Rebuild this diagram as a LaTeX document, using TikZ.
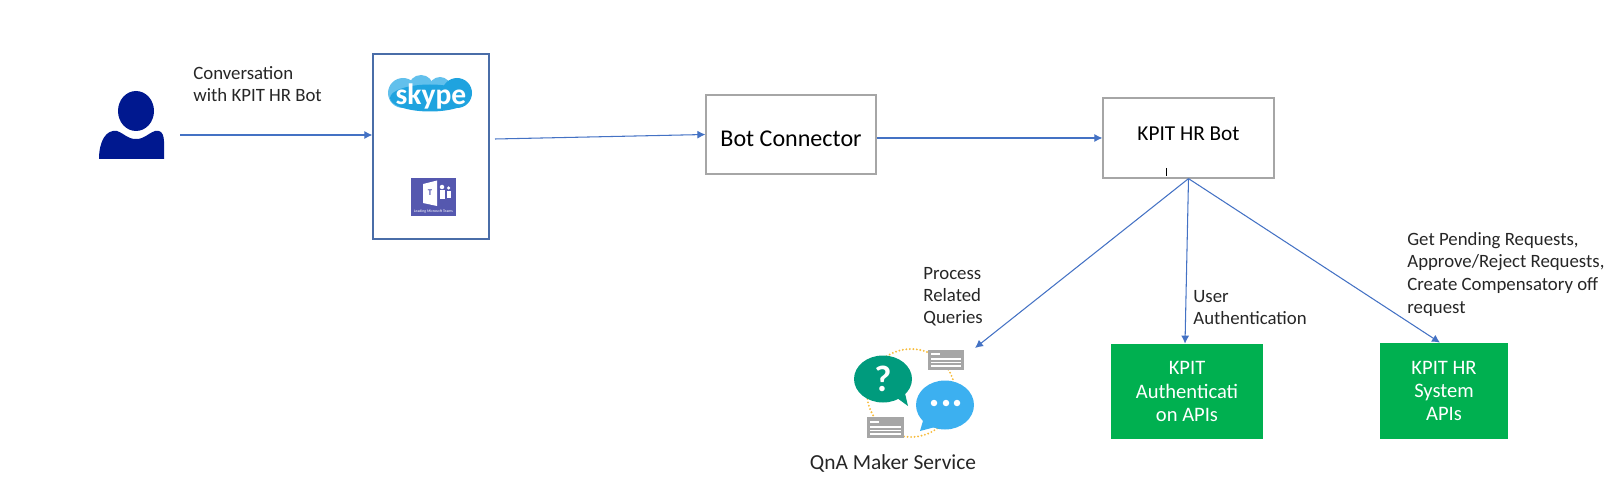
\documentclass[tikz,border=0pt]{standalone}
\usepackage{fontspec}
\setmainfont{Carlito}
\usetikzlibrary{arrows.meta}

\definecolor{linkblue}{HTML}{4472C4}
\definecolor{chanblue}{HTML}{4A6DA8}
\definecolor{boxgrey}{HTML}{A6A6A6}
\definecolor{apigreen}{HTML}{00B050}
\definecolor{usernavy}{HTML}{00188F}
\definecolor{skypeblue}{HTML}{1FA3DF}
\definecolor{skypelight}{HTML}{62C0EC}
\definecolor{teamspurple}{HTML}{5558AF}
\definecolor{askgreen}{HTML}{009B7D}
\definecolor{replyblue}{HTML}{3CB0F0}
\definecolor{cardgrey}{HTML}{A6A6A6}
\definecolor{ringgold}{HTML}{F7BC3C}

\tikzset{
  link/.style={-{Latex[length=0.16cm,width=0.16cm]}, linkblue, line width=0.6pt},
  whitebox/.style={draw=boxgrey, line width=0.7pt, fill=white},
  apibox/.style={fill=apigreen, text=white, align=center, font=\fontsize{11.7}{13.2}\selectfont},
  note/.style={inner sep=0, align=left, text=black!85, font=\fontsize{10.7}{12.6}\selectfont},
  cardline/.style={white, line width=0.6pt}
}

\begin{document}
\begin{tikzpicture}
    \useasboundingbox (0, 0) rectangle (32.3, 9.78);

    \fill [usernavy] (2.72, 7.56) ellipse (0.36 and 0.40);
    \fill [usernavy] (1.98, 6.6) .. controls (1.98, 6.95) and (2.12, 7.2) .. (2.34, 7.16) .. controls (2.5, 7.1) and (2.55, 7.0) .. (2.72, 7.0) .. controls (2.89, 7.0) and (2.94, 7.1) .. (3.1, 7.16) .. controls (3.32, 7.2) and (3.28, 6.95) .. (3.28, 6.6) -- cycle;

    \node [draw=chanblue, line width=0.7pt, minimum width=2.32cm, minimum height=3.7cm] (channels) at (8.62, 6.85) {};
    \node [whitebox, minimum width=3.4cm, minimum height=1.58cm, label={[yshift=-0.09cm, font=\fontsize{13.7}{16}\selectfont]center:Bot Connector}] (connector) at (15.82, 7.09) {};
    \node [whitebox, minimum width=3.42cm, minimum height=1.6cm, label={[yshift=0.08cm, font=\fontsize{12.1}{14}\selectfont]center:KPIT HR Bot}] (bot) at (23.77, 7.02) {};
    \node [apibox, minimum width=3.04cm, minimum height=1.9cm] (auth) at (23.74, 1.95) {KPIT\\Authenticati\\on APIs};
    \node [apibox, minimum width=2.56cm, minimum height=1.92cm] (hrapi) at (28.88, 1.96) {KPIT HR\\System\\APIs};

    \coordinate (userout) at (3.6, 7.08);
    \coordinate (chanout) at (9.9, 7.0);
    \coordinate (qnain) at (19.5, 2.82);

    \draw [link] (userout) -- (channels.west |- userout);
    \draw [link] (chanout) -- (connector.west);
    \draw [link] (connector.east |- bot.west) -- (bot.west);
    \draw [link] (bot.south) -- (qnain);
    \draw [link] (bot.south) -- ([xshift=-0.04cm]auth.north);
    \draw [link] (bot.south) -- ([xshift=-0.08cm]hrapi.north);

    \draw [black, line width=0.4pt] (23.32, 6.42) -- (23.32, 6.26);

    \node [note, anchor=west] (convtext) at (3.86, 8.1) {Conversation\\with KPIT HR Bot};
    \node [note, anchor=west] (querytext) at (18.46, 3.85) {Process\\Related\\Queries};
    \node [note, anchor=west] (usertext) at (23.86, 3.63) {User\\Authentication};
    \node [note, anchor=west, font=\fontsize{10.7}{12.9}\selectfont] (hrtext) at (28.14, 4.3) {Get Pending Requests,\\Approve/Reject Requests,\\Create Compensatory off\\request};
    \node [note, anchor=center, font=\fontsize{12.2}{14}\selectfont] (qnatext) at (17.86, 0.52) {QnA Maker Service};

    \fill [skypelight] (8.06, 7.92) circle (0.3);
    \fill [skypelight] (8.42, 8.03) circle (0.25);
    \fill [skypelight] (8.8, 8.02) circle (0.22);
    \fill [skypeblue] (9.14, 7.92) circle (0.3);
    \fill [skypeblue] (8.6, 7.82) ellipse (0.8 and 0.27);
    \node [inner sep=0, text=white, font=\fontsize{16.8}{18}\bfseries\selectfont] (skypetext) at (8.62, 7.86) {skype};

    \fill [teamspurple] (8.22, 5.46) rectangle (9.12, 6.22);
    \fill [white] (8.46, 6.1) -- (8.74, 6.17) -- (8.74, 5.66) -- (8.46, 5.72) -- cycle;
    \node [inner sep=0, text=teamspurple, font=\fontsize{5}{6}\bfseries\selectfont] (teamst) at (8.6, 5.93) {T};
    \fill [white] (8.84, 6.04) circle (0.045);
    \fill [white] (8.97, 6.02) circle (0.035);
    \fill [white] (8.79, 5.97) rectangle (8.89, 5.79);
    \fill [white] (8.93, 5.96) rectangle (9.01, 5.81);
    \node [inner sep=0, text=white, font=\fontsize{2.2}{3}\selectfont] (teamstext) at (8.67, 5.55) {Leading Microsoft Teams};

    \draw [ringgold, line width=1.2pt, line cap=round, dash pattern=on 0pt off 2pt] (18.22, 1.92) circle (0.88);

    \fill [askgreen] (17.66, 2.2) ellipse (0.58 and 0.47);
    \fill [askgreen] (17.9, 1.85) -- (18.16, 1.66) -- (18.08, 2.0) -- cycle;
    \node [inner sep=0, text=white, font=\fontsize{21}{24}\bfseries\selectfont] (asktext) at (17.66, 2.2) {?};

    \fill [replyblue] (18.9, 1.68) ellipse (0.58 and 0.49);
    \fill [replyblue] (18.5, 1.5) -- (18.4, 1.16) -- (18.78, 1.26) -- cycle;
    \fill [white] (18.68, 1.72) circle (0.065);
    \fill [white] (18.92, 1.72) circle (0.065);
    \fill [white] (19.14, 1.72) circle (0.065);

    \fill [cardgrey] (18.56, 2.38) rectangle (19.28, 2.78);
    \fill [white] (18.62, 2.68) rectangle (18.8, 2.72);
    \foreach \y in {2.46, 2.53, 2.6} {
      \draw [cardline] (18.62, \y) -- (19.22, \y);
    }

    \fill [cardgrey] (17.34, 1.02) rectangle (18.08, 1.44);
    \fill [white] (17.4, 1.33) rectangle (17.58, 1.37);
    \foreach \y in {1.1, 1.17, 1.24} {
      \draw [cardline] (17.4, \y) -- (18.02, \y);
    }
\end{tikzpicture}
\end{document}
